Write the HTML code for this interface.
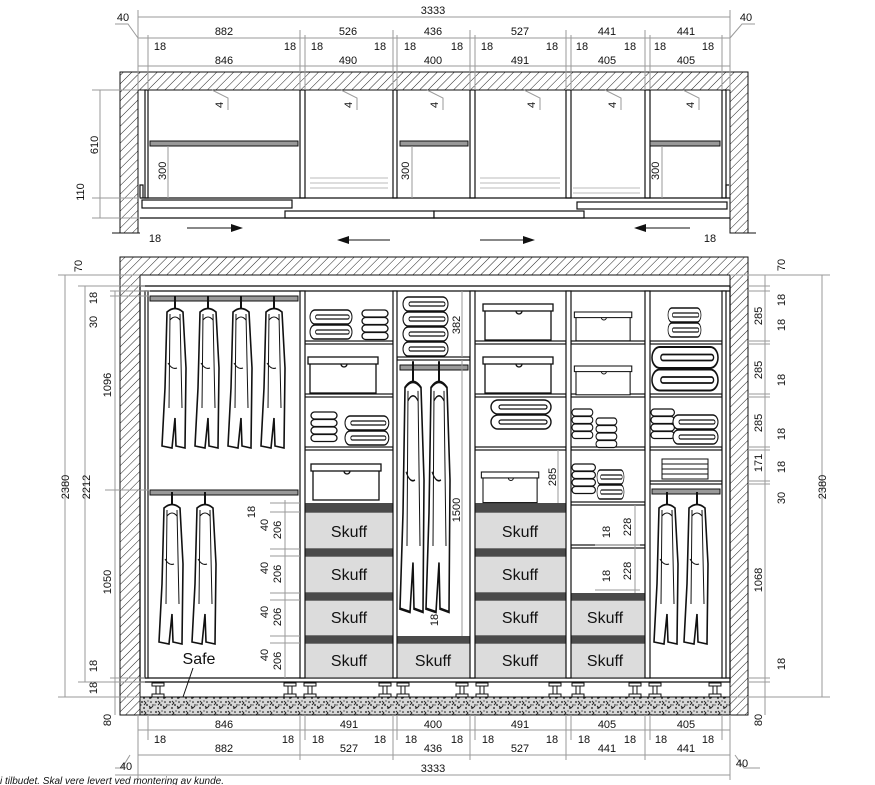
<!DOCTYPE html>
<html><head><meta charset="utf-8"><style>
html,body{margin:0;padding:0;background:#fff;}
svg{display:block;font-family:"Liberation Sans",sans-serif;}
.d{stroke:#9a9a9a;stroke-width:1;fill:none}
.t{font-size:11px;fill:#111}
</style></head><body>
<svg width="875" height="785" viewBox="0 0 875 785" xmlns="http://www.w3.org/2000/svg">
<defs>
<pattern id="h" width="6" height="6" patternUnits="userSpaceOnUse" patternTransform="rotate(45)">
<rect width="6" height="6" fill="#fff"/><line x1="0" y1="0" x2="0" y2="6" stroke="#222" stroke-width="1"/></pattern>
<pattern id="g" width="14" height="10" patternUnits="userSpaceOnUse">
<rect width="14" height="10" fill="#d8d8d8"/>
<circle cx="2" cy="2" r=".9" fill="#111"/><circle cx="7" cy="5" r=".9" fill="#111"/><circle cx="11" cy="2" r=".8" fill="#111"/>
<circle cx="4" cy="8" r=".9" fill="#111"/><circle cx="10" cy="8" r=".9" fill="#111"/><circle cx="13" cy="5" r=".7" fill="#111"/><circle cx="1" cy="5" r=".6" fill="#111"/><circle cx="8" cy="1" r=".6" fill="#111"/>
<path d="M4 1 l2 2 l-2 2 M9 6 l2 2 l2 -2" stroke="#222" stroke-width=".9" fill="none"/></pattern>
<g id="gar"><line x1="13" y1="-12" x2="13" y2="2" stroke="#111" stroke-width="2"/>
<path d="M5 4 Q13 -3 21 4 L24 60 L23 140 L14 138 L13 110 L10 140 L0 138 L3 80 Z" fill="#fff" stroke="#111" stroke-width="1.6"/>
<path d="M8 6 L7 100 M18 6 L20 100 M6 55 Q10 62 15 60 M8 12 Q13 6 18 12" stroke="#111" stroke-width="1" fill="none"/></g>
<g id="tl"><rect x="0" y="0" width="60" height="14" rx="7" fill="#fff" stroke="#111" stroke-width="1.4"/><rect x="8" y="5" width="48" height="4" rx="2" fill="none" stroke="#111" stroke-width="1.2"/>
<rect x="0" y="15" width="60" height="14" rx="7" fill="#fff" stroke="#111" stroke-width="1.4"/><rect x="8" y="20" width="48" height="4" rx="2" fill="none" stroke="#111" stroke-width="1.2"/></g>
<g id="ts" stroke-width="1.3"><rect x="0" y="0" width="26" height="7" rx="3.5" fill="#fff" stroke="#111"/><rect x="0" y="7.5" width="26" height="7" rx="3.5" fill="#fff" stroke="#111"/><rect x="0" y="15" width="26" height="7" rx="3.5" fill="#fff" stroke="#111"/><rect x="0" y="22.5" width="26" height="7" rx="3.5" fill="#fff" stroke="#111"/></g>
<g id="box" stroke-width="1.3"><rect x="0" y="4" width="66" height="32" fill="#fff" stroke="#111"/><rect x="-2" y="0" width="70" height="7" fill="#fff" stroke="#111"/><path d="M31 7 a3 3 0 0 0 6 0" fill="none" stroke="#111"/></g>
<g id="leg"><rect x="-6" y="0" width="12" height="3" fill="#fff" stroke="#111"/><rect x="-2" y="3" width="4" height="8" fill="#fff" stroke="#111"/><rect x="-6" y="11" width="12" height="3" fill="#fff" stroke="#111"/></g>
</defs>

<!-- ===== TOP PLAN ===== -->
<path d="M120 72 H748 V233 H730 V90 H138 V233 H120 Z" fill="url(#h)" stroke="#111"/>
<line x1="112" y1="233" x2="140" y2="233" stroke="#111"/><line x1="730" y1="233" x2="756" y2="233" stroke="#111"/>
<g stroke="#111" fill="#fff" stroke-width="1.2">
<rect x="145" y="90" width="3" height="108"/><rect x="300" y="90" width="5" height="108"/><rect x="393" y="90" width="4" height="108"/>
<rect x="470" y="90" width="5" height="108"/><rect x="566" y="90" width="5" height="108"/><rect x="645" y="90" width="5" height="108"/><rect x="722" y="90" width="4" height="108"/>
<line x1="140" y1="198" x2="730" y2="198"/>
<rect x="142" y="200" width="150" height="8"/><rect x="285" y="211" width="149" height="7"/><rect x="434" y="211" width="150" height="7"/><rect x="577" y="202" width="150" height="7"/>
<line x1="140" y1="218" x2="730" y2="218"/>
<path d="M140 198 V185 H143 V198" fill="none"/><path d="M726 198 V185 H729" fill="none"/>
</g>
<g fill="#999" stroke="#111">
<rect x="150" y="141" width="148" height="5"/><rect x="400" y="141" width="68" height="5"/><rect x="650" y="141" width="70" height="5"/></g>
<g stroke="#bbb"><line x1="310" y1="178" x2="388" y2="178"/><line x1="310" y1="183" x2="388" y2="183"/><line x1="310" y1="188" x2="388" y2="188"/>
<line x1="480" y1="178" x2="560" y2="178"/><line x1="480" y1="183" x2="560" y2="183"/><line x1="480" y1="188" x2="560" y2="188"/>
<line x1="573" y1="188" x2="640" y2="188"/><line x1="573" y1="193" x2="640" y2="193"/></g>
<g class="d"><line x1="168" y1="146" x2="168" y2="198"/><line x1="412" y1="146" x2="412" y2="198"/><line x1="662" y1="146" x2="662" y2="198"/>
<path d="M212 90 L228 98 V110"/><path d="M341 90 L357 98 V110"/><path d="M427 90 L443 98 V110"/><path d="M524 90 L540 98 V110"/><path d="M605 90 L621 98 V110"/><path d="M683 90 L699 98 V110"/></g>
<g class="t"><text transform="translate(166,180) rotate(-90)">300</text><text transform="translate(409,180) rotate(-90)">300</text><text transform="translate(659,180) rotate(-90)">300</text></g>
<g class="t"><text transform="translate(223,108) rotate(-90)">4</text><text transform="translate(352,108) rotate(-90)">4</text><text transform="translate(438,108) rotate(-90)">4</text><text transform="translate(535,108) rotate(-90)">4</text><text transform="translate(616,108) rotate(-90)">4</text><text transform="translate(694,108) rotate(-90)">4</text></g>
<g stroke="#111"><line x1="187" y1="228" x2="232" y2="228"/><line x1="348" y1="240" x2="390" y2="240"/><line x1="480" y1="240" x2="524" y2="240"/><line x1="645" y1="228" x2="690" y2="228"/></g>
<g fill="#111"><path d="M243 228 l-12 -4 v8z"/><path d="M337 240 l12 -4 v8z"/><path d="M535 240 l-12 -4 v8z"/><path d="M634 228 l12 -4 v8z"/></g>
<g class="d"><line x1="138" y1="17" x2="730" y2="17"/><line x1="138" y1="38" x2="730" y2="38"/><line x1="138" y1="66" x2="730" y2="66"/>
<line x1="138" y1="10" x2="138" y2="90"/><line x1="730" y1="10" x2="730" y2="90"/>
<line x1="148" y1="35" x2="148" y2="90"/><line x1="300" y1="30" x2="300" y2="90"/><line x1="305" y1="35" x2="305" y2="90"/><line x1="393" y1="30" x2="393" y2="90"/><line x1="397" y1="35" x2="397" y2="90"/><line x1="470" y1="30" x2="470" y2="90"/><line x1="475" y1="35" x2="475" y2="90"/><line x1="566" y1="30" x2="566" y2="90"/><line x1="571" y1="35" x2="571" y2="90"/><line x1="645" y1="30" x2="645" y2="90"/><line x1="650" y1="35" x2="650" y2="90"/><line x1="722" y1="35" x2="722" y2="90"/>
<line x1="100" y1="90" x2="100" y2="218"/><line x1="92" y1="90" x2="138" y2="90"/><line x1="92" y1="198" x2="140" y2="198"/><line x1="92" y1="218" x2="140" y2="218"/>
<path d="M115 24 H128 L138 38"/><path d="M755 24 H742 L730 38"/></g>
<g class="t" text-anchor="middle">
<text x="433" y="14">3333</text><text x="123" y="21">40</text><text x="746" y="21">40</text>
<text x="224" y="35">882</text><text x="348" y="35">526</text><text x="433" y="35">436</text><text x="520" y="35">527</text><text x="607" y="35">441</text><text x="686" y="35">441</text>
<text x="224" y="64">846</text><text x="348" y="64">490</text><text x="433" y="64">400</text><text x="520" y="64">491</text><text x="607" y="64">405</text><text x="686" y="64">405</text>
<text x="160" y="50">18</text><text x="290" y="50">18</text><text x="317" y="50">18</text><text x="380" y="50">18</text><text x="410" y="50">18</text><text x="457" y="50">18</text><text x="487" y="50">18</text><text x="552" y="50">18</text><text x="582" y="50">18</text><text x="630" y="50">18</text><text x="660" y="50">18</text><text x="708" y="50">18</text>
<text x="155" y="242">18</text><text x="710" y="242">18</text>
<text transform="translate(98,145) rotate(-90)">610</text><text transform="translate(84,192) rotate(-90)">110</text>
</g>

<!-- ===== FRONT VIEW ===== -->
<path d="M120 257 H748 V715 H730 V275 H140 V715 H120 Z" fill="url(#h)" stroke="#111"/>
<rect x="140" y="697" width="590" height="18" fill="url(#g)" stroke="#111"/>
<rect x="140" y="286" width="590" height="396" fill="#fff" stroke="#111" stroke-width="1.3"/>
<line x1="140" y1="291" x2="730" y2="291" stroke="#111" stroke-width="1.3"/>
<line x1="140" y1="678" x2="730" y2="678" stroke="#111" stroke-width="1.3"/>
<g fill="#dcdcdc" stroke="#111">
<rect x="305" y="512" width="88" height="37"/><rect x="305" y="556" width="88" height="37"/><rect x="305" y="600" width="88" height="36"/><rect x="305" y="643" width="88" height="35"/>
<rect x="475" y="512" width="91" height="37"/><rect x="475" y="556" width="91" height="37"/><rect x="475" y="600" width="91" height="36"/><rect x="475" y="643" width="91" height="35"/>
<rect x="397" y="643" width="73" height="35"/>
<rect x="571" y="600" width="74" height="36"/><rect x="571" y="643" width="74" height="35"/></g>
<g fill="#4a4a4a">
<rect x="305" y="503" width="88" height="9"/><rect x="305" y="549" width="88" height="7"/><rect x="305" y="593" width="88" height="7"/><rect x="305" y="636" width="88" height="7"/>
<rect x="475" y="503" width="91" height="9"/><rect x="475" y="549" width="91" height="7"/><rect x="475" y="593" width="91" height="7"/><rect x="475" y="636" width="91" height="7"/>
<rect x="397" y="636" width="73" height="7"/><rect x="571" y="593" width="74" height="7"/><rect x="571" y="636" width="74" height="7"/></g>
<g font-size="16" fill="#111" text-anchor="middle">
<text x="349" y="537">Skuff</text><text x="349" y="580">Skuff</text><text x="349" y="623">Skuff</text><text x="349" y="666">Skuff</text>
<text x="520" y="537">Skuff</text><text x="520" y="580">Skuff</text><text x="520" y="623">Skuff</text><text x="520" y="666">Skuff</text>
<text x="433" y="666">Skuff</text><text x="605" y="623">Skuff</text><text x="605" y="666">Skuff</text>
<text x="199" y="664">Safe</text></g>
<line x1="193" y1="668" x2="183" y2="697" stroke="#111"/>
<g stroke="#111" fill="#fff" stroke-width="1.2">
<rect x="305" y="341" width="88" height="3"/><rect x="305" y="394" width="88" height="3"/><rect x="305" y="447" width="88" height="3"/>
<rect x="475" y="341" width="91" height="3"/><rect x="475" y="394" width="91" height="3"/><rect x="475" y="447" width="91" height="3"/>
<rect x="571" y="341" width="74" height="3"/><rect x="571" y="394" width="74" height="3"/><rect x="571" y="447" width="74" height="3"/><rect x="571" y="502" width="74" height="3"/><rect x="571" y="545" width="74" height="3"/>
<rect x="650" y="341" width="72" height="3"/><rect x="650" y="394" width="72" height="3"/><rect x="650" y="447" width="72" height="3"/><rect x="650" y="481" width="72" height="3"/>
<rect x="397" y="357" width="73" height="3"/>
<rect x="145" y="291" width="3" height="387"/><rect x="300" y="291" width="5" height="387"/><rect x="393" y="291" width="4" height="387"/><rect x="470" y="291" width="5" height="387"/><rect x="566" y="291" width="5" height="387"/><rect x="645" y="291" width="5" height="387"/><rect x="722" y="291" width="4" height="387"/>
</g>
<g fill="#999" stroke="#111">
<rect x="150" y="296" width="148" height="5"/><rect x="150" y="490" width="148" height="5"/><rect x="400" y="365" width="68" height="5"/><rect x="652" y="489" width="68" height="5"/></g>
<use href="#gar" x="162" y="308"/><use href="#gar" x="195" y="308"/><use href="#gar" x="228" y="308"/><use href="#gar" x="261" y="308"/>
<use href="#gar" x="159" y="504"/><use href="#gar" x="192" y="504"/>
<g transform="translate(400,381) scale(1,1.65)"><use href="#gar" x="0" y="0"/></g>
<g transform="translate(426,381) scale(1,1.65)"><use href="#gar" x="0" y="0"/></g>
<use href="#gar" x="654" y="504"/><use href="#gar" x="684" y="504"/>
<g transform="translate(310,310) scale(.7,1)"><use href="#tl"/></g>
<use href="#ts" x="362" y="310"/>
<use href="#box" x="310" y="357"/>
<use href="#ts" x="311" y="412"/><g transform="translate(345,416) scale(.73,1)"><use href="#tl"/></g>
<use href="#box" x="313" y="464"/>
<g transform="translate(403,297) scale(.75,1)"><use href="#tl"/><use href="#tl" y="30"/></g>
<use href="#box" x="485" y="304"/><use href="#box" x="485" y="357"/>
<use href="#tl" x="491" y="400"/>
<g transform="translate(483,472) scale(.82,.85)"><use href="#box"/></g>
<g transform="translate(576,312) scale(.82,.8)"><use href="#box"/></g>
<g transform="translate(576,366) scale(.82,.8)"><use href="#box"/></g>
<g transform="translate(572,409) scale(.8,1)"><use href="#ts"/></g>
<g transform="translate(596,418) scale(.8,1)"><use href="#ts"/></g>
<g transform="translate(572,464) scale(.9,1)"><use href="#ts"/></g>
<g transform="translate(597,470) scale(.45,1)"><use href="#tl"/></g>
<g transform="translate(668,308) scale(.55,1)"><use href="#tl"/></g>
<g transform="translate(652,347) scale(1.1,1.5)"><use href="#tl"/></g>
<g transform="translate(651,409) scale(.9,1)"><use href="#ts"/></g>
<g transform="translate(673,415) scale(.75,1)"><use href="#tl"/></g>
<g stroke="#111" fill="#fff"><rect x="662" y="459" width="46" height="5"/><rect x="662" y="464" width="46" height="5"/><rect x="662" y="469" width="46" height="5"/><rect x="662" y="474" width="46" height="5"/></g>
<use href="#leg" x="158" y="683"/><use href="#leg" x="290" y="683"/><use href="#leg" x="310" y="683"/><use href="#leg" x="385" y="683"/><use href="#leg" x="403" y="683"/><use href="#leg" x="462" y="683"/><use href="#leg" x="482" y="683"/><use href="#leg" x="555" y="683"/><use href="#leg" x="578" y="683"/><use href="#leg" x="635" y="683"/><use href="#leg" x="655" y="683"/><use href="#leg" x="715" y="683"/>

<g class="d">
<line x1="65" y1="275" x2="65" y2="697"/><line x1="85" y1="286" x2="85" y2="682"/>
<line x1="58" y1="275" x2="140" y2="275"/><line x1="58" y1="697" x2="140" y2="697"/>
<line x1="78" y1="286" x2="145" y2="286"/><line x1="78" y1="682" x2="145" y2="682"/>
<line x1="110" y1="291" x2="150" y2="291"/><line x1="110" y1="296" x2="150" y2="296"/><line x1="105" y1="490" x2="150" y2="490"/><line x1="110" y1="678" x2="145" y2="678"/>
<line x1="115" y1="291" x2="115" y2="715"/>
<line x1="730" y1="275" x2="830" y2="275"/><line x1="730" y1="697" x2="830" y2="697"/><line x1="822" y1="275" x2="822" y2="697"/>
<line x1="748" y1="286" x2="770" y2="286"/><line x1="748" y1="291" x2="770" y2="291"/><line x1="748" y1="341" x2="770" y2="341"/><line x1="748" y1="344" x2="770" y2="344"/><line x1="748" y1="394" x2="770" y2="394"/><line x1="748" y1="397" x2="770" y2="397"/><line x1="748" y1="447" x2="770" y2="447"/><line x1="748" y1="450" x2="770" y2="450"/><line x1="748" y1="481" x2="770" y2="481"/><line x1="748" y1="484" x2="770" y2="484"/><line x1="748" y1="678" x2="770" y2="678"/><line x1="748" y1="682" x2="770" y2="682"/>
<line x1="765" y1="275" x2="765" y2="715"/>
<line x1="462" y1="291" x2="462" y2="357"/><line x1="462" y1="360" x2="462" y2="636"/><line x1="558" y1="450" x2="558" y2="503"/>
<line x1="635" y1="505" x2="635" y2="593"/><line x1="595" y1="545" x2="640" y2="545"/><line x1="595" y1="590" x2="640" y2="590"/>
<line x1="270" y1="503" x2="300" y2="503"/><line x1="270" y1="512" x2="300" y2="512"/><line x1="270" y1="549" x2="300" y2="549"/><line x1="270" y1="556" x2="300" y2="556"/><line x1="270" y1="593" x2="300" y2="593"/><line x1="270" y1="600" x2="300" y2="600"/><line x1="270" y1="636" x2="300" y2="636"/><line x1="270" y1="643" x2="300" y2="643"/>
<line x1="285" y1="500" x2="285" y2="678"/>
<line x1="138" y1="730" x2="730" y2="730"/><line x1="138" y1="755" x2="730" y2="755"/><line x1="115" y1="775" x2="730" y2="775"/>
<line x1="138" y1="715" x2="138" y2="780"/><line x1="730" y1="715" x2="730" y2="780"/>
<line x1="148" y1="715" x2="148" y2="740"/><line x1="300" y1="715" x2="300" y2="760"/><line x1="305" y1="715" x2="305" y2="740"/><line x1="393" y1="715" x2="393" y2="760"/><line x1="397" y1="715" x2="397" y2="740"/><line x1="470" y1="715" x2="470" y2="760"/><line x1="475" y1="715" x2="475" y2="740"/><line x1="566" y1="715" x2="566" y2="760"/><line x1="571" y1="715" x2="571" y2="740"/><line x1="645" y1="715" x2="645" y2="760"/><line x1="650" y1="715" x2="650" y2="740"/><line x1="722" y1="715" x2="722" y2="740"/>
<path d="M115 768 L122 768 L130 755"/><path d="M760 768 L744 768 L735 755"/>
</g>
<g class="t" text-anchor="middle">
<text transform="translate(82,266) rotate(-90)">70</text><text transform="translate(69,487) rotate(-90)">2380</text><text transform="translate(90,487) rotate(-90)">2212</text>
<text transform="translate(111,385) rotate(-90)">1096</text><text transform="translate(111,582) rotate(-90)">1050</text>
<text transform="translate(97,298) rotate(-90)">18</text><text transform="translate(97,322) rotate(-90)">30</text><text transform="translate(97,666) rotate(-90)">18</text><text transform="translate(97,688) rotate(-90)">18</text><text transform="translate(111,720) rotate(-90)">80</text>
<text transform="translate(785,265) rotate(-90)">70</text><text transform="translate(762,316) rotate(-90)">285</text><text transform="translate(785,300) rotate(-90)">18</text><text transform="translate(785,325) rotate(-90)">18</text>
<text transform="translate(762,370) rotate(-90)">285</text><text transform="translate(785,380) rotate(-90)">18</text><text transform="translate(762,423) rotate(-90)">285</text><text transform="translate(785,434) rotate(-90)">18</text>
<text transform="translate(762,463) rotate(-90)">171</text><text transform="translate(785,467) rotate(-90)">18</text><text transform="translate(785,498) rotate(-90)">30</text>
<text transform="translate(762,580) rotate(-90)">1068</text><text transform="translate(785,664) rotate(-90)">18</text><text transform="translate(762,720) rotate(-90)">80</text><text transform="translate(826,487) rotate(-90)">2380</text>
<text transform="translate(460,325) rotate(-90)">382</text><text transform="translate(460,510) rotate(-90)">1500</text><text transform="translate(556,477) rotate(-90)">285</text>
<text transform="translate(438,620) rotate(-90)">18</text>
<text transform="translate(631,527) rotate(-90)">228</text><text transform="translate(631,571) rotate(-90)">228</text><text transform="translate(610,532) rotate(-90)">18</text><text transform="translate(610,576) rotate(-90)">18</text>
<text transform="translate(255,512) rotate(-90)">18</text>
<text transform="translate(268,525) rotate(-90)">40</text><text transform="translate(281,530) rotate(-90)">206</text>
<text transform="translate(268,568) rotate(-90)">40</text><text transform="translate(281,574) rotate(-90)">206</text>
<text transform="translate(268,612) rotate(-90)">40</text><text transform="translate(281,617) rotate(-90)">206</text>
<text transform="translate(268,655) rotate(-90)">40</text><text transform="translate(281,661) rotate(-90)">206</text>
<text x="224" y="728">846</text><text x="349" y="728">491</text><text x="433" y="728">400</text><text x="520" y="728">491</text><text x="607" y="728">405</text><text x="686" y="728">405</text>
<text x="160" y="743">18</text><text x="288" y="743">18</text><text x="318" y="743">18</text><text x="380" y="743">18</text><text x="411" y="743">18</text><text x="457" y="743">18</text><text x="488" y="743">18</text><text x="552" y="743">18</text><text x="584" y="743">18</text><text x="630" y="743">18</text><text x="661" y="743">18</text><text x="708" y="743">18</text>
<text x="224" y="752">882</text><text x="349" y="752">527</text><text x="433" y="752">436</text><text x="520" y="752">527</text><text x="607" y="752">441</text><text x="686" y="752">441</text>
<text x="433" y="772">3333</text><text x="126" y="770">40</text><text x="742" y="767">40</text>
</g>
<text x="0" y="784" font-size="10" font-style="italic" fill="#111">i tilbudet. Skal vere levert ved montering av kunde.</text>
</svg>
</body></html>
